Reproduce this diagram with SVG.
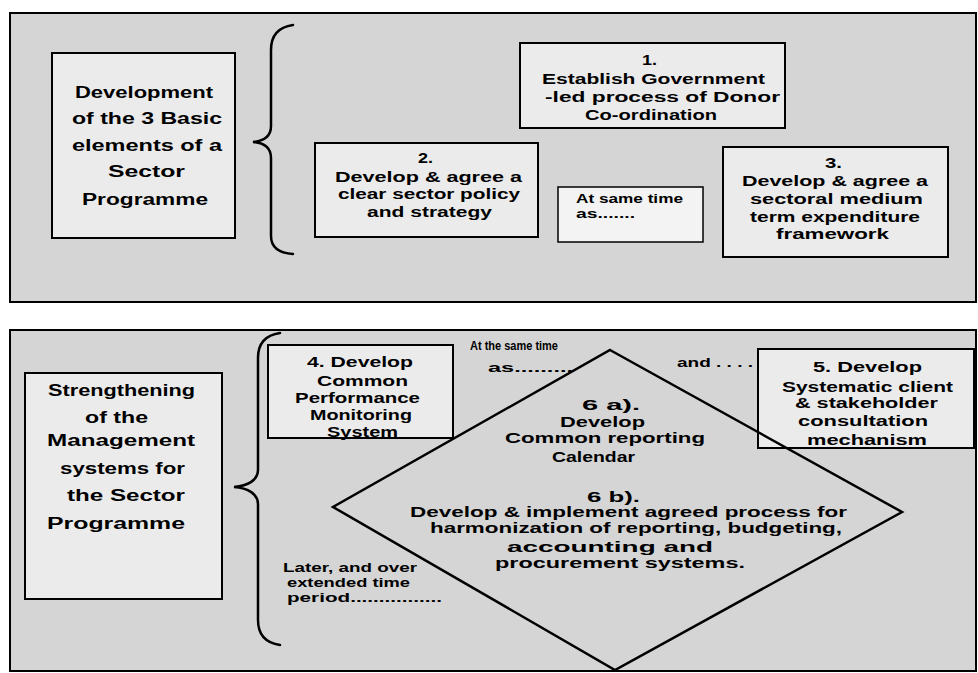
<svg xmlns="http://www.w3.org/2000/svg" width="978" height="673" viewBox="0 0 978 673">
  <style>
    .panel { fill: #d5d5d5; stroke: #000; stroke-width: 2; }
    .box { fill: #ebebeb; stroke: #000; stroke-width: 2; }
    .note { fill: #f3f3f3; stroke: #000; stroke-width: 1.5; }
    .brace { fill: none; stroke: #000; stroke-width: 2.5; stroke-linecap: round; }
    .diamond { fill: none; stroke: #000; stroke-width: 2.5; stroke-linejoin: miter; }
    text { font-family: "Liberation Sans", Arial, sans-serif; font-weight: bold; fill: #000; }
    .lg { font-size: 16px; }
    .md { font-size: 14.5px; }
    .sm { font-size: 12.5px; }
    .lb { font-size: 13.5px; }
  </style>

  <!-- panels -->
  <rect class="panel" x="10" y="13" width="966" height="289"/>
  <rect class="panel" x="10" y="330" width="966" height="341"/>

  <!-- braces -->
  <g id="connectors">
    <path class="brace" d="M293,25 C279,27 271,35 271,50 L271,126 C271,136 264,141 253,142 C264,143 271,148 271,158 L271,236 C271,248 279,253 293,254"/>
    <path class="brace" d="M280,333 C266,335 258,343 258,358 L258,470 C258,480 248,486 234,487 C248,488 258,494 258,504 L258,620 C258,635 266,643 280,645"/>
  </g>

  <!-- top panel -->
  <g id="node-basic-elements">
    <rect class="box" x="52" y="53" width="183" height="185"/>
    <text class="lg" x="75" y="98" textLength="138" lengthAdjust="spacingAndGlyphs">Development</text>
    <text class="lg" x="72" y="124" textLength="150" lengthAdjust="spacingAndGlyphs">of the 3 Basic</text>
    <text class="lg" x="72" y="151" textLength="150" lengthAdjust="spacingAndGlyphs">elements of a</text>
    <text class="lg" x="108" y="177" textLength="77" lengthAdjust="spacingAndGlyphs">Sector</text>
    <text class="lg" x="82" y="205" textLength="126" lengthAdjust="spacingAndGlyphs">Programme</text>
  </g>

  <g id="node-1">
    <rect class="box" x="520" y="43" width="265" height="85"/>
    <text class="md" x="642" y="65" textLength="15" lengthAdjust="spacingAndGlyphs">1.</text>
    <text class="md" x="542" y="84" textLength="223" lengthAdjust="spacingAndGlyphs">Establish Government</text>
    <text class="md" x="545" y="102" textLength="235" lengthAdjust="spacingAndGlyphs">-led process of Donor</text>
    <text class="md" x="585" y="120" textLength="132" lengthAdjust="spacingAndGlyphs">Co-ordination</text>
  </g>

  <g id="node-2">
    <rect class="box" x="315" y="143" width="223" height="94"/>
    <text class="md" x="418" y="163" textLength="15" lengthAdjust="spacingAndGlyphs">2.</text>
    <text class="md" x="335" y="182" textLength="187" lengthAdjust="spacingAndGlyphs">Develop &amp; agree a</text>
    <text class="md" x="338" y="199" textLength="182" lengthAdjust="spacingAndGlyphs">clear sector policy</text>
    <text class="md" x="367" y="217" textLength="125" lengthAdjust="spacingAndGlyphs">and strategy</text>
  </g>

  <g id="node-same-time">
    <rect class="note" x="558" y="187" width="145" height="55"/>
    <text class="sm" x="576" y="203" textLength="107" lengthAdjust="spacingAndGlyphs">At same time</text>
    <text class="sm" x="576" y="218" textLength="59" lengthAdjust="spacingAndGlyphs">as.......</text>
  </g>

  <g id="node-3">
    <rect class="box" x="723" y="147" width="225" height="110"/>
    <text class="md" x="825" y="168" textLength="17" lengthAdjust="spacingAndGlyphs">3.</text>
    <text class="md" x="742" y="186" textLength="186" lengthAdjust="spacingAndGlyphs">Develop &amp; agree a</text>
    <text class="md" x="750" y="204" textLength="173" lengthAdjust="spacingAndGlyphs">sectoral medium</text>
    <text class="md" x="750" y="222" textLength="170" lengthAdjust="spacingAndGlyphs">term expenditure</text>
    <text class="md" x="776" y="239" textLength="113" lengthAdjust="spacingAndGlyphs">framework</text>
  </g>

  <!-- bottom panel -->
  <g id="node-management">
    <rect class="box" x="25" y="373" width="197" height="226"/>
    <text class="lg" x="48" y="396" textLength="147" lengthAdjust="spacingAndGlyphs">Strengthening</text>
    <text class="lg" x="85" y="423" textLength="63" lengthAdjust="spacingAndGlyphs">of the</text>
    <text class="lg" x="47" y="446" textLength="148" lengthAdjust="spacingAndGlyphs">Management</text>
    <text class="lg" x="60" y="474" textLength="125" lengthAdjust="spacingAndGlyphs">systems for</text>
    <text class="lg" x="67" y="501" textLength="118" lengthAdjust="spacingAndGlyphs">the Sector</text>
    <text class="lg" x="47" y="529" textLength="138" lengthAdjust="spacingAndGlyphs">Programme</text>
  </g>

  <g id="node-4">
    <rect class="box" x="268" y="345" width="185" height="93"/>
    <text class="md" x="307" y="367" textLength="106" lengthAdjust="spacingAndGlyphs">4. Develop</text>
    <text class="md" x="317" y="386" textLength="91" lengthAdjust="spacingAndGlyphs">Common</text>
    <text class="md" x="295" y="403" textLength="125" lengthAdjust="spacingAndGlyphs">Performance</text>
    <text class="md" x="310" y="420" textLength="102" lengthAdjust="spacingAndGlyphs">Monitoring</text>
    <text class="md" x="327" y="437" textLength="71" lengthAdjust="spacingAndGlyphs">System</text>
  </g>

  <g id="node-5">
    <rect class="box" x="758" y="349" width="216" height="99"/>
    <text class="md" x="813" y="372" textLength="109" lengthAdjust="spacingAndGlyphs">5. Develop</text>
    <text class="md" x="782" y="392" textLength="171" lengthAdjust="spacingAndGlyphs">Systematic client</text>
    <text class="md" x="795" y="408" textLength="143" lengthAdjust="spacingAndGlyphs">&amp; stakeholder</text>
    <text class="md" x="798" y="426" textLength="130" lengthAdjust="spacingAndGlyphs">consultation</text>
    <text class="md" x="807" y="445" textLength="120" lengthAdjust="spacingAndGlyphs">mechanism</text>
  </g>

  <g id="node-6">
    <polygon class="diamond" points="610,350 902,512 615,670 333,507"/>
    <text class="md" x="582" y="410" textLength="58" lengthAdjust="spacingAndGlyphs">6 a).</text>
    <text class="md" x="560" y="427" textLength="85" lengthAdjust="spacingAndGlyphs">Develop</text>
    <text class="md" x="505" y="443" textLength="200" lengthAdjust="spacingAndGlyphs">Common reporting</text>
    <text class="md" x="552" y="462" textLength="83" lengthAdjust="spacingAndGlyphs">Calendar</text>
    <text class="md" x="587" y="502" textLength="53" lengthAdjust="spacingAndGlyphs">6 b).</text>
    <text class="md" x="410" y="517" textLength="437" lengthAdjust="spacingAndGlyphs">Develop &amp; implement agreed process for</text>
    <text class="md" x="430" y="533" textLength="412" lengthAdjust="spacingAndGlyphs">harmonization of reporting, budgeting,</text>
    <text class="md" x="507" y="552" textLength="206" lengthAdjust="spacingAndGlyphs">accounting and</text>
    <text class="md" x="495" y="568" textLength="250" lengthAdjust="spacingAndGlyphs">procurement systems.</text>
  </g>

  <!-- timing labels -->
  <g id="labels">
    <text class="lb" x="470" y="350" textLength="88" lengthAdjust="spacingAndGlyphs">At the same time</text>
    <text class="lb" x="488" y="372" textLength="85" lengthAdjust="spacingAndGlyphs">as.........</text>
    <text class="lb" x="677" y="367" textLength="76" lengthAdjust="spacingAndGlyphs">and . . . .</text>
    <text class="lb" x="283" y="572" textLength="134" lengthAdjust="spacingAndGlyphs">Later, and over</text>
    <text class="lb" x="287" y="587" textLength="123" lengthAdjust="spacingAndGlyphs">extended time</text>
    <text class="lb" x="287" y="602" textLength="155" lengthAdjust="spacingAndGlyphs">period................</text>
  </g>
</svg>
